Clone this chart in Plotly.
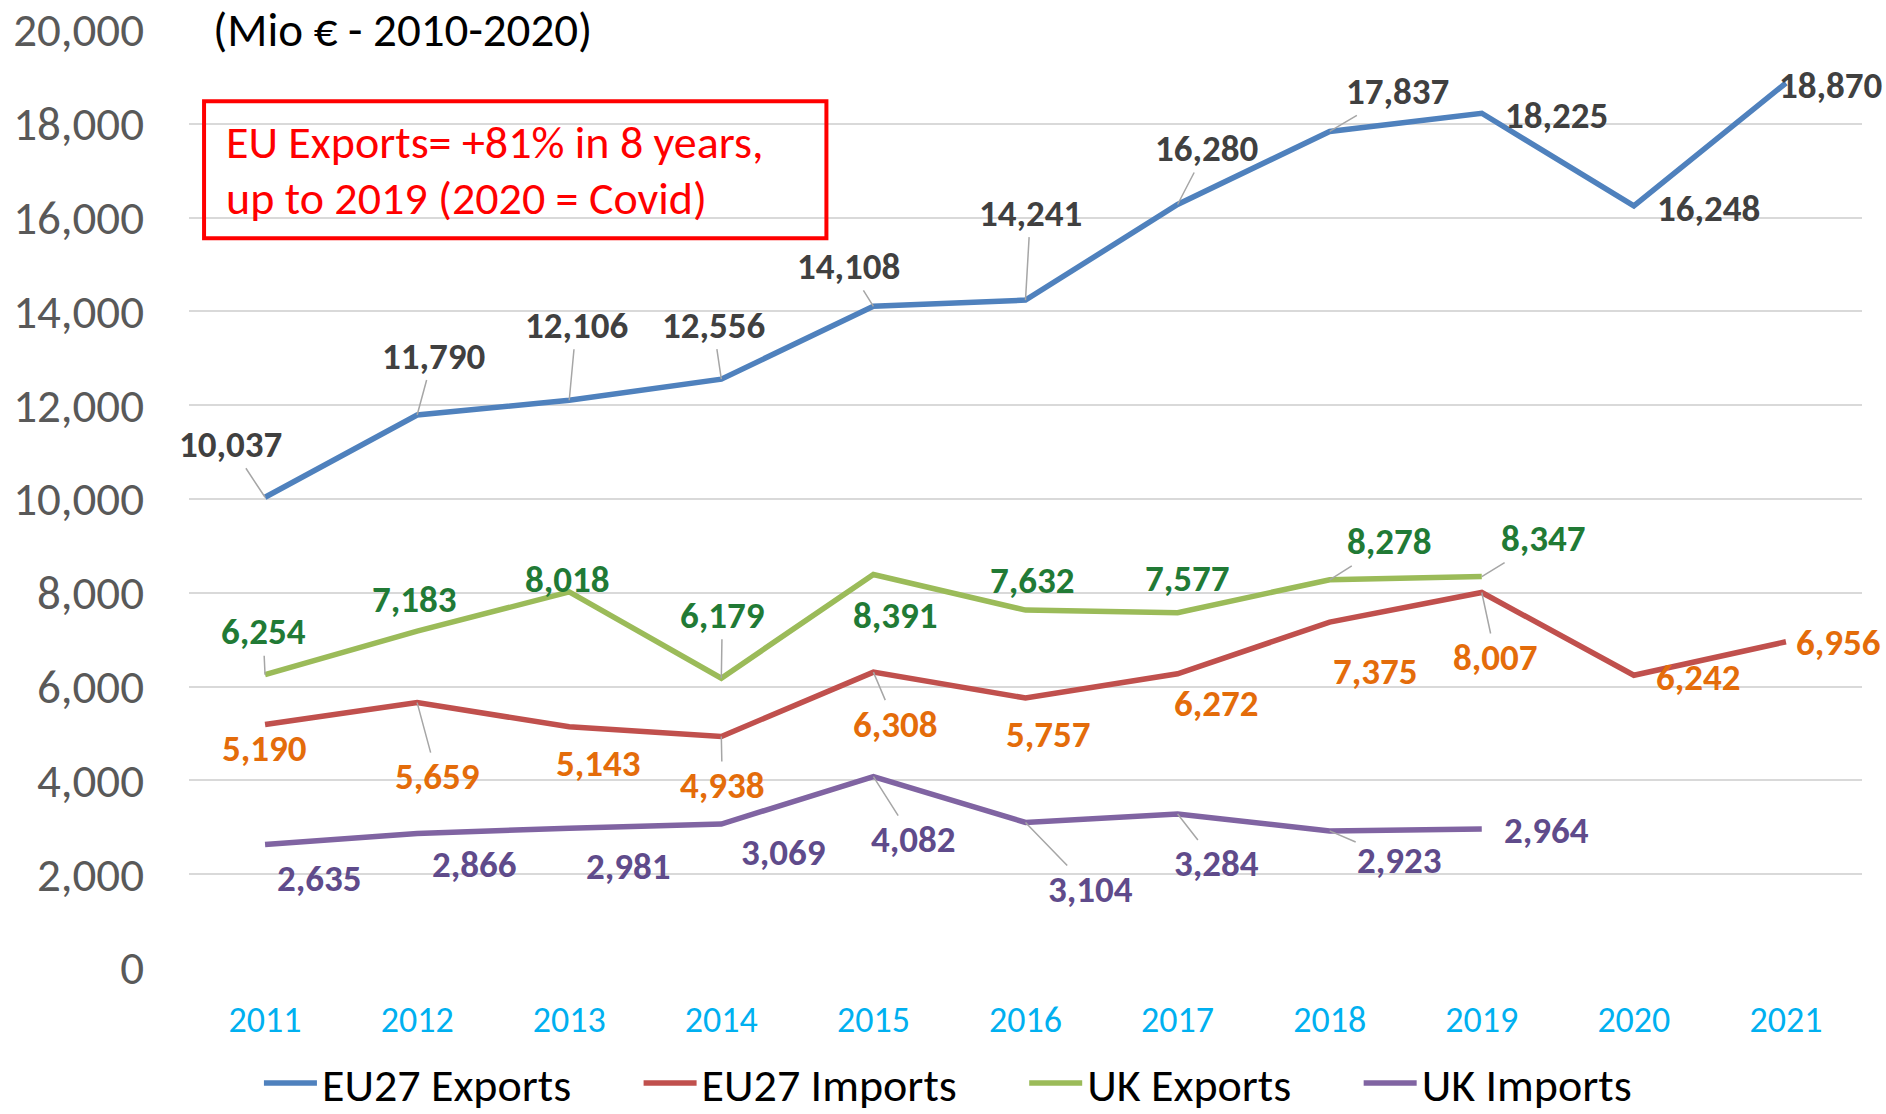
import plotly.graph_objects as go

# ---------------- data ----------------
years = [2011, 2012, 2013, 2014, 2015, 2016, 2017, 2018, 2019, 2020, 2021]
series_names = ["EU27 Exports", "EU27 Imports", "UK Exports", "UK Imports"]
eu27_exports = [10037, 11790, 12106, 12556, 14108, 14241, 16280, 17837, 18225, 16248, 18870]
eu27_imports = [5190, 5659, 5143, 4938, 6308, 5757, 6272, 7375, 8007, 6242, 6956]
uk_exports = [6254, 7183, 8018, 6179, 8391, 7632, 7577, 8278, 8347, None, None]
uk_imports = [2635, 2866, 2981, 3069, 4082, 3104, 3284, 2923, 2964, None, None]
y_ticks = [0, 2000, 4000, 6000, 8000, 10000, 12000, 14000, 16000, 18000, 20000]
unit_note = "(Mio € - 2010-2020)"
box_lines = ["EU Exports= +81% in 8 years,", "up to 2019 (2020 = Covid)"]

# ---------------- styles ----------------
FONT = "Carlito, Calibri, Lato, sans-serif"
line_colors = ["#4F81BD", "#C0504D", "#9BBB59", "#8064A2"]
label_colors = ["#404040", "#E46C0A", "#217A35", "#5F4B8B"]
LEADER = "#A6A6A6"

# label offsets in pixels (dx, dy with dy positive = down) and whether a leader line is drawn
label_offsets = [
    [(-35, -53), (16, -59), (7, -75), (-8, -54), (-25, -40), (5, -87), (29, -56), (68, -40), (75, 2), (75, 3), (45, 2)],
    [(-1, 24), (20, 74), (29, 37), (1, 49), (22, 52), (23, 36), (39, 30), (46, 49), (14, 65), (65, 2), (53, 1)],
    [(-2, -43), (-3, -32), (-2, -12), (1, -63), (22, 41), (7, -30), (10, -34), (60, -38), (62, -38), None, None],
    [(54, 34), (57, 31), (59, 38), (62, 28), (40, 63), (65, 67), (39, 50), (70, 30), (65, 2), None, None],
]
leaders = [
    [1, 1, 1, 1, 1, 1, 1, 1, 0, 0, 0],
    [0, 1, 0, 1, 1, 0, 0, 0, 1, 0, 0],
    [1, 0, 0, 1, 0, 0, 0, 1, 1, 0, 0],
    [0, 0, 0, 0, 1, 1, 1, 1, 0, 0, 0],
]

all_series = [eu27_exports, eu27_imports, uk_exports, uk_imports]
PAD = "\u00a0" * 6

fig = go.Figure()
for name, vals, col in zip(series_names, all_series, line_colors):
    fig.add_trace(go.Scatter(
        x=years, y=vals, name=name + PAD, mode="lines",
        line=dict(color=col, width=5.5), connectgaps=False,
    ))

annotations = []
for s, vals in enumerate(all_series):
    for i, (yr, v) in enumerate(zip(years, vals)):
        if v is None:
            continue
        dx, dy = label_offsets[s][i]
        annotations.append(dict(
            x=yr, y=v, xref="x", yref="y",
            text="<b>" + f"{v:,}" + "</b>",
            showarrow=True, arrowhead=0, arrowwidth=1.5, standoff=0,
            arrowcolor=LEADER if leaders[s][i] else "rgba(0,0,0,0)",
            ax=dx, ay=dy,
            font=dict(family=FONT, size=37, color=label_colors[s]),
        ))

# unit note on top gridline
annotations.append(dict(
    x=0.009, y=1.0, xref="paper", yref="paper", xanchor="left", yanchor="middle",
    text=unit_note, showarrow=False, bgcolor="white", borderpad=8,
    font=dict(family=FONT, size=47, color="#000000"),
))
# red box text
for txt, yy in zip(box_lines, [0.8806, 0.8209]):
    annotations.append(dict(
        x=0.021, y=yy, xref="paper", yref="paper", xanchor="left", yanchor="middle",
        text=txt, showarrow=False,
        font=dict(family=FONT, size=46, color="#FF0000"),
    ))

fig.update_layout(
    width=1886, height=1114,
    margin=dict(l=189, r=24, t=30, b=146, autoexpand=False),
    paper_bgcolor="white", plot_bgcolor="white",
    font=dict(family=FONT),
    showlegend=True,
    legend=dict(
        orientation="h", x=0.0418, xanchor="left", y=-0.1226, yanchor="middle",
        font=dict(family=FONT, size=46, color="#000000"),
        itemwidth=53, bgcolor="rgba(0,0,0,0)", tracegroupgap=0,
    ),
    xaxis=dict(
        range=[2010.5, 2021.5], tickmode="array", tickvals=years,
        ticktext=[str(y) for y in years],
        showgrid=False, zeroline=False, showline=False, ticks="",
        ticklabelstandoff=27, automargin=False,
        tickfont=dict(family=FONT, size=36, color="#00B0F0"),
    ),
    yaxis=dict(
        range=[0, 20000], tickmode="array", tickvals=y_ticks,
        ticktext=[f"{t:,}" for t in y_ticks],
        showgrid=True, gridcolor="#D9D9D9", gridwidth=2,
        zeroline=False, showline=False, ticks="",
        ticklabelstandoff=44, automargin=False,
        tickfont=dict(family=FONT, size=47, color="#595959"),
    ),
    annotations=annotations,
    shapes=[dict(
        type="rect", xref="paper", yref="paper",
        x0=0.009, x1=0.381, y0=0.778, y1=0.924,
        line=dict(color="#FF0000", width=4), fillcolor="rgba(0,0,0,0)", layer="above",
    )],
)

fig.write_html(
    "out.html",
    config={"displayModeBar": False},
    post_script="document.body.style.margin='0';document.body.style.overflow='hidden';",
)
